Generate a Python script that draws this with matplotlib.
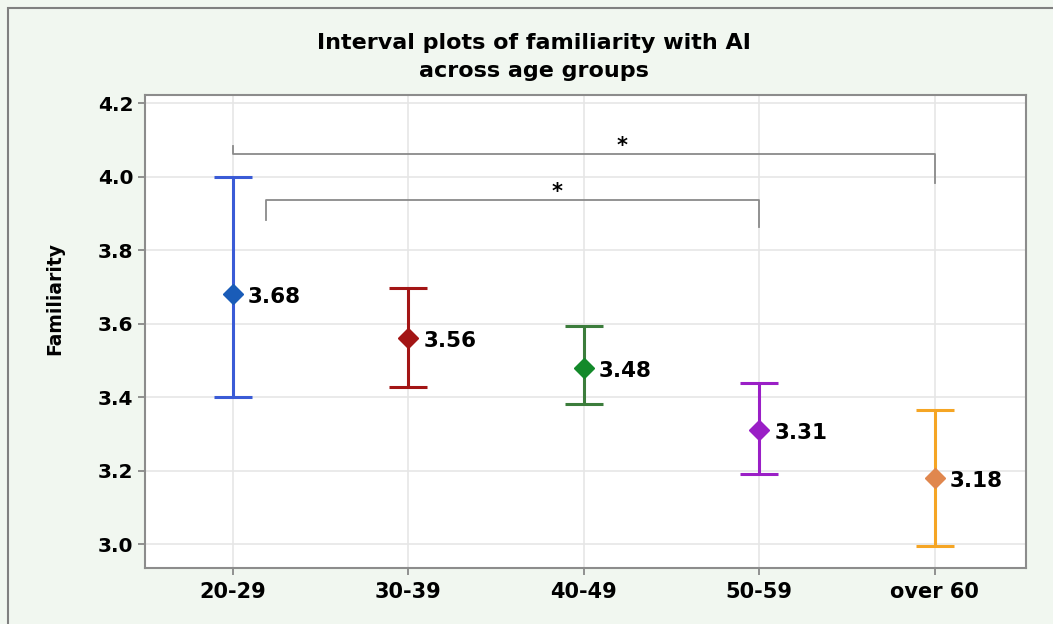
import matplotlib
import matplotlib.pyplot as plt
from matplotlib.patches import Rectangle
matplotlib.use('Agg')

# data
groups = ["20-29", "30-39", "40-49", "50-59", "over 60"]
means = [3.68, 3.56, 3.48, 3.31, 3.18]
lower = [3.40, 3.427, 3.381, 3.19, 2.995]
upper = [4.00, 3.697, 3.593, 3.438, 3.365]
bar_colors = ["#3a5bd6", "#a31515", "#3c7d3c", "#9a1fc6", "#f5a524"]
marker_colors = ["#1a5cb8", "#a31515", "#13892a", "#9a1fc6", "#e0874e"]

# significance brackets: (left x, right x, bar y, left foot y, right foot y, star x)
brackets = [
    (0.0, 4.0, 4.061, 4.083, 3.982, 2.216),
    (0.19, 3.0, 3.936, 3.882, 3.862, 1.846),
]

plt.rcParams['font.family'] = ['DejaVu Sans']
plt.rcParams['font.weight'] = 'bold'

fig = plt.figure(figsize=(10.53, 6.24), dpi=100)
fig.patch.set_facecolor("#f1f7f0")
fig.add_artist(Rectangle((8 / 1053, -0.01), 1.1, 1 - 8 / 624 + 0.01,
                         transform=fig.transFigure, fill=False,
                         edgecolor="#808080", linewidth=1.5))

ax = fig.add_axes([145 / 1053, 1 - 568 / 624, (1026 - 145) / 1053, (568 - 95) / 624])
ax.set_facecolor("white")

xs = list(range(len(groups)))
for i in xs:
    ax.errorbar(xs[i], means[i],
                yerr=[[means[i] - lower[i]], [upper[i] - means[i]]],
                fmt='none', ecolor=bar_colors[i], elinewidth=2.2,
                capsize=14, capthick=2.2, zorder=3)
    ax.plot(xs[i], means[i], marker='D', markersize=10,
            color=marker_colors[i], zorder=4)
    ax.text(xs[i] + 0.085, means[i] - 0.008, "%.2f" % means[i],
            fontsize=15.5, fontweight='bold', va='center', ha='left')

for x0, x1, yb, yl, yr, xstar in brackets:
    ax.plot([x0, x0, x1, x1], [yl, yb, yb, yr], color="#8a8a8a",
            linewidth=1.3, zorder=2)
    ax.text(xstar, yb - 0.006, "*", fontsize=15,
            fontweight='bold', ha='center', va='bottom')

ax.set_xlim(-0.5, 4.52)
ax.set_ylim(2.935, 4.222)
ax.set_xticks(xs)
ax.set_xticklabels(groups)
ax.set_yticks([3.0, 3.2, 3.4, 3.6, 3.8, 4.0, 4.2])
ax.set_yticklabels(["3.0", "3.2", "3.4", "3.6", "3.8", "4.0", "4.2"])
ax.tick_params(labelsize=14.5, colors="#808080", labelcolor="black",
               length=5, width=1.2)
ax.tick_params(axis='x', labelsize=15, pad=5)
for lab in ax.get_xticklabels() + ax.get_yticklabels():
    lab.set_fontweight('bold')
ax.grid(True, color="#e6e6e6", linewidth=1.2, zorder=0)
ax.set_axisbelow(True)
for sp in ax.spines.values():
    sp.set_color("#8c8c8c")
    sp.set_linewidth(1.5)

fig.text(55 / 1053, 1 - 298 / 624, "Familiarity", rotation=90,
         ha='center', va='center', fontsize=13.5, fontweight='bold')
fig.text(534 / 1053, 1 - 57 / 624,
         "Interval plots of familiarity with AI\nacross age groups",
         ha='center', va='center', fontsize=16, fontweight='bold',
         linespacing=1.55)

fig.savefig("out.png", dpi=100, facecolor=fig.get_facecolor())
